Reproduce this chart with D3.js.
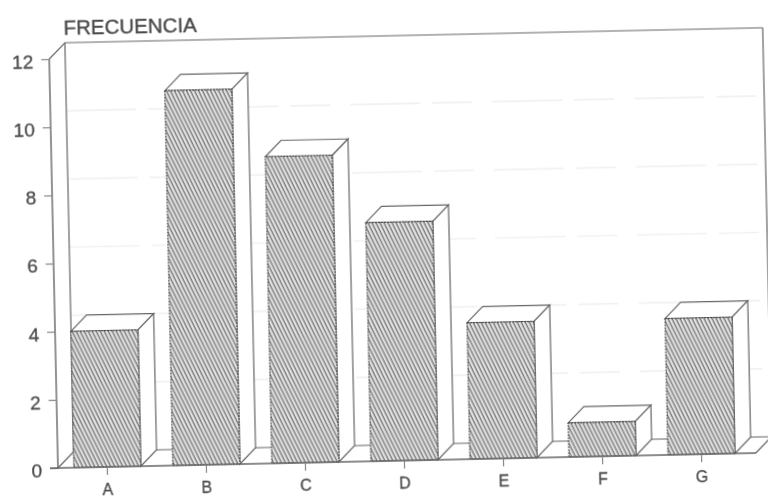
<!DOCTYPE html>
<html><head><meta charset="utf-8">
<script src="https://cdn.jsdelivr.net/npm/d3@7/dist/d3.min.js"></script>
<style>html,body{margin:0;padding:0;background:#fff}svg{display:block}
text{font-family:"Liberation Sans",Arial,sans-serif;fill:#4a4a4a}</style>
</head><body><div id="c"></div>
<script>
const categories = ["A","B","C","D","E","F","G"];
const frecuencia = [4,11,9,7,4,1,4];
const yTicks = [0,2,4,6,8,10,12];
const axisTitle = "FRECUENCIA";

const W=768,H=500,originX=58,originY=468,tilt=-1.23,depth=16,bandW=693,plotW=698,plotH=409;
const ink="#666";
const svg=d3.select("#c").append("svg").attr("width",W).attr("height",H).attr("viewBox",[0,0,W,H]);
const defs=svg.append("defs");
const pat=defs.append("pattern").attr("id","hatch").attr("width",3.6).attr("height",3.6)
  .attr("patternUnits","userSpaceOnUse").attr("patternTransform","rotate(-25)");
pat.append("rect").attr("width",3.6).attr("height",3.6).attr("fill","#e8e8e8");
pat.append("line").attr("x1",1.2).attr("x2",1.2).attr("y1",0).attr("y2",3.6).attr("stroke","#747474").attr("stroke-width",1.4);
defs.append("filter").attr("id","scan").append("feGaussianBlur").attr("stdDeviation",0.4);

const g=svg.append("g").attr("filter","url(#scan)")
  .attr("transform",`translate(${originX},${originY}) rotate(${tilt})`);
const x=d3.scaleBand().domain(categories).range([0,bandW]).paddingInner(0.323).paddingOuter(0.16);
const y=d3.scaleLinear().domain([0,12]).range([0,-plotH]);

// faint gridlines on the back wall
g.append("g").selectAll("line").data(yTicks.filter(d=>d>0&&d<12)).join("line")
  .attr("x1",depth).attr("x2",plotW+depth).attr("y1",d=>y(d)-depth).attr("y2",d=>y(d)-depth)
  .attr("stroke","#f1f1f1").attr("stroke-width",1.6).attr("stroke-dasharray","70 12 40 20");

// walls and floor
const wall=g.append("g").attr("fill","none").attr("stroke",ink).attr("stroke-width",1.2);
const line=d3.line();
wall.append("path").attr("d",line([[0,y(12)],[depth,y(12)-depth],[plotW+depth,y(12)-depth]]));
wall.append("path").attr("d",line([[depth,y(12)-depth],[depth,-depth],[plotW+depth,-depth]]));
wall.append("path").attr("d",line([[plotW+depth,y(12)-depth],[plotW+depth,-depth],[plotW,0]]));
wall.append("path").attr("d",line([[0,0],[depth,-depth]]));

// bars
const bars=g.append("g").selectAll("g").data(categories).join("g");
const val=(c)=>frecuencia[categories.indexOf(c)];
const bw=x.bandwidth();
bars.append("path").attr("fill","#fff").attr("stroke",ink).attr("stroke-width",1.2)
  .attr("d",c=>line([[x(c),y(val(c))],[x(c)+depth,y(val(c))-depth],[x(c)+bw+depth,y(val(c))-depth],[x(c)+bw,y(val(c))]])+"Z");
bars.append("path").attr("fill","#fff").attr("stroke",ink).attr("stroke-width",1.2)
  .attr("d",c=>line([[x(c)+bw,y(val(c))],[x(c)+bw+depth,y(val(c))-depth],[x(c)+bw+depth,-depth],[x(c)+bw,0]])+"Z");
bars.append("rect").attr("x",c=>x(c)).attr("width",bw)
  .attr("y",c=>y(val(c))).attr("height",c=>-y(val(c)))
  .attr("fill","url(#hatch)").attr("stroke","#3a3a3a").attr("stroke-width",1).attr("stroke-dasharray","2 1");

// axes
const tickStyle="font-family:'Liberation Sans';fill:#4a4a4a;stroke:#4a4a4a;stroke-width:0.3px";
const ay=g.append("g").call(d3.axisLeft(y).tickValues(yTicks).tickSize(8).tickPadding(8).tickFormat(d3.format("d")));
ay.selectAll("text").attr("font-size",19).attr("dy","0.44em").attr("style",tickStyle);
const ax=g.append("g").call(d3.axisBottom(x).tickSize(8).tickPadding(9));
ax.selectAll("text").attr("font-size",16).attr("style",tickStyle);
[ay,ax].forEach(a=>{a.selectAll("path").attr("stroke",ink).attr("stroke-width",1.4);
  a.selectAll("line").attr("stroke","#888").attr("stroke-width",1.2);});
ay.select(".domain").attr("d",line([[0,0],[0,y(12)]]));
ax.select(".domain").attr("d",line([[-8,0],[plotW,0]]));

g.append("text").attr("x",15).attr("y",y(12)-24).attr("font-size",20.5)
  .attr("stroke","#4a4a4a").attr("stroke-width",0.4).text(axisTitle);
</script></body></html>
